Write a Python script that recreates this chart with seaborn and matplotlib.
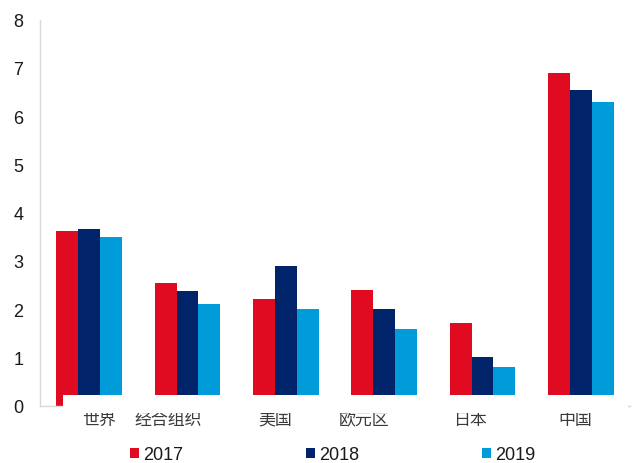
import matplotlib
matplotlib.use("Agg")
import matplotlib.pyplot as plt
import matplotlib.transforms as mtransforms
from matplotlib.patches import Rectangle, Patch
import numpy as np
import pandas as pd
import seaborn as sns

# Real GDP growth (%) by economy, 2017-2019
regions = ["世界", "经合组织", "美国", "欧元区", "日本", "中国"]
years = ["2017", "2018", "2019"]
growth_2017 = [3.62, 2.54, 2.22, 2.40, 1.72, 6.89]
growth_2018 = [3.67, 2.37, 2.89, 2.00, 1.00, 6.54]
growth_2019 = [3.50, 2.10, 2.00, 1.58, 0.80, 6.30]

colors = ["#E00A21", "#00236A", "#009BD9"]

df = pd.DataFrame({
    "region": regions * 3,
    "year": [y for y in years for _ in regions],
    "growth": growth_2017 + growth_2018 + growth_2019,
})

sns.set_theme(style="white")
plt.rcParams["font.family"] = ["Liberation Sans", "Noto Sans CJK SC", "DejaVu Sans"]

fig = plt.figure(figsize=(6.35, 4.64), dpi=100)
ax = fig.add_axes([40 / 635, 1 - 406.7 / 464, 590 / 635, 386 / 464])

sns.barplot(data=df, x="region", y="growth", hue="year", order=regions,
            hue_order=years, palette=colors, saturation=1, width=0.67,
            gap=0, linewidth=0, ax=ax, legend=False)

ax.set_ylim(0, 8)
ax.set_xlim(-0.5, len(regions) - 0.5)
ax.set_yticks(range(0, 9))
ax.set_xlabel("")
ax.set_ylabel("")

for side in ("top", "right"):
    ax.spines[side].set_visible(False)
for side in ("left", "bottom"):
    ax.spines[side].set_color("#d9d9d9")
    ax.spines[side].set_linewidth(1.0)

ax.tick_params(axis="y", length=0, pad=12, labelsize=13, labelcolor="#1a1a1a")
ax.tick_params(axis="x", length=0, pad=3)

# white strip behind the category labels
ax.add_patch(Rectangle((0.039, -0.02), 0.958, 0.0485, transform=ax.transAxes,
                       facecolor="white", edgecolor="none", zorder=5,
                       clip_on=False))

label_shift_px = [10, -19, -11, -20, -13, -6]
for lab, dx in zip(ax.get_xticklabels(), label_shift_px):
    lab.set_fontfamily(["Noto Sans CJK SC", "DejaVu Sans"])
    lab.set_fontsize(12.2)
    lab.set_fontweight("light")
    lab.set_color("#3a3a3a")
    lab.set_zorder(6)
    lab.set_transform(lab.get_transform() +
                      mtransforms.ScaledTranslation(dx / 100, 0, fig.dpi_scale_trans))

handles = [Patch(facecolor=c, edgecolor="none") for c in colors]
fig.legend(handles, years, loc="center", bbox_to_anchor=(0.5236, 0.018),
           ncol=3, frameon=False, fontsize=13, handlelength=0.5,
           handleheight=0.5, handletextpad=0.22, columnspacing=6.8,
           labelcolor="#1a1a1a", borderpad=0, borderaxespad=0)

fig.savefig("out.png", dpi=100, facecolor="white")
